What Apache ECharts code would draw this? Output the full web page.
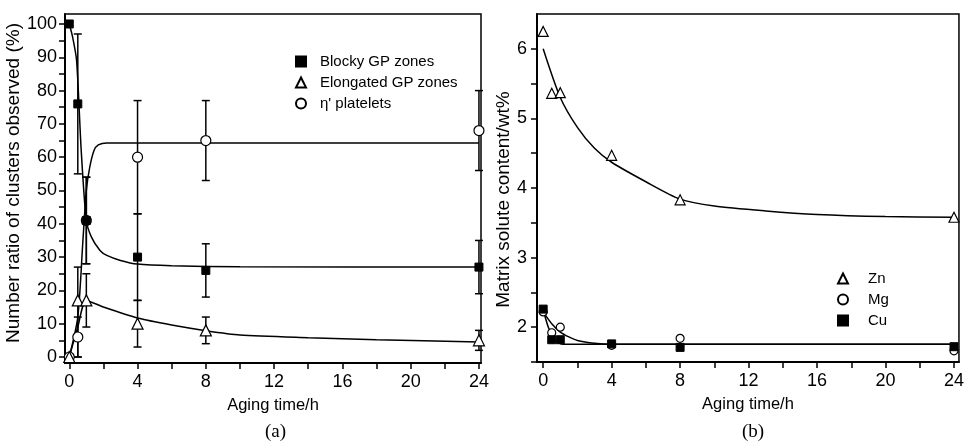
<!DOCTYPE html>
<html>
<head>
<meta charset="utf-8">
<script src="https://cdn.jsdelivr.net/npm/echarts@6/dist/echarts.min.js"></script>
<style>
  html, body { margin: 0; padding: 0; background: #fff; }
  #chart { width: 967px; height: 443px; }
</style>
</head>
<body>
<div id="chart"></div>
<script>
// (a) cluster ratios
const tA = [0, 0.5, 1, 4, 8, 24];
const blocky = [100, 76, 41, 30, 26, 27];
const blockyLow = [null, 55, 28, 17, 18, 19];
const blockyHigh = [null, 97, 54, 43, 34, 35];
const elong = [0, 17, 17, 10, 8, 5];
const elongLow = [null, 0, 9, 3, 4, 2];
const elongHigh = [null, 27, 25, 17, 12, 8];
const eta = [0, 6, 41, 60, 65, 68];
const etaLow = [null, 0, 28, 43, 53, 56];
const etaHigh = [null, 12, 54, 77, 77, 80];

// fitted curves
const blockyFitT = [0, 0.2, 0.43, 0.7, 1, 1.3, 1.8, 2.2, 3, 4, 6, 10, 24];
const blockyFitY = [100, 96, 89, 62, 41, 36, 32, 30.5, 29, 27.9, 27.4, 27.1, 27];
const etaFitT = [0, 0.5, 0.8, 1, 1.2, 1.45, 1.7, 2.2, 24];
const etaFitY = [0, 12, 35, 50, 57, 62, 63.7, 64.3, 64.3];
const elongFitT = [0, 0.5, 1, 2, 4, 6, 8, 10, 14, 18, 24];
const elongFitY = [0, 9, 17, 15, 11.7, 9.6, 7.9, 6.6, 5.8, 5.2, 4.5];

// (b) matrix solute content
const tB = [0, 0.5, 1, 4, 8, 24];
const zn = [6.25, 5.36, 5.37, 4.47, 3.83, 3.58];
const mg = [2.22, 1.92, 2.0, 1.74, 1.84, 1.66];
const cu = [2.26, 1.82, 1.82, 1.76, 1.71, 1.72];
const znFitT = [0, 1, 2, 3, 4, 6, 8, 10, 13, 16, 20, 24];
const znFitY = [6.0, 5.3, 4.87, 4.57, 4.37, 4.09, 3.84, 3.74, 3.67, 3.62, 3.59, 3.58];
const cuFitT = [0, 0.3, 0.6, 0.9, 1.2, 24];
const cuFitY = [2.25, 2.0, 1.85, 1.78, 1.755, 1.755];
const mgFitT = [0, 0.5, 1, 1.5, 2, 3, 4, 24];
const mgFitY = [2.22, 2.05, 1.93, 1.86, 1.81, 1.77, 1.755, 1.755];

const xTicks = [0, 2, 4, 6, 8, 10, 12, 14, 16, 18, 20, 22, 24];
const xLabels = [0, 4, 8, 12, 16, 20, 24];
const yTicksA = [0, 5, 10, 15, 20, 25, 30, 35, 40, 45, 50, 55, 60, 65, 70, 75, 80, 85, 90, 95, 100];
const yLabelsA = [0, 10, 20, 30, 40, 50, 60, 70, 80, 90, 100];
const yTicksB = [1.5, 2, 2.5, 3, 3.5, 4, 4.5, 5, 5.5, 6];
const yLabelsB = [2, 3, 4, 5, 6];

const FONT = 'Liberation Sans';
const zip = (xs, ys) => xs.map((x, i) => [x, ys[i]]);
const bars = (xs, lo, hi) => xs.map((x, i) => [x, lo[i], hi[i]]).filter(d => d[1] !== null);

const errorBar = (idx, data) => ({
    type: 'custom',
    xAxisIndex: idx,
    yAxisIndex: idx,
    z: 3,
    silent: true,
    data: data,
    renderItem: function (params, api) {
        const lo = api.coord([api.value(0), api.value(1)]);
        const hi = api.coord([api.value(0), api.value(2)]);
        const w = 4;
        const st = { stroke: '#000', lineWidth: 1.5 };
        return {
            type: 'group',
            children: [
                { type: 'line', shape: { x1: lo[0], y1: lo[1], x2: hi[0], y2: hi[1] }, style: st },
                { type: 'line', shape: { x1: lo[0] - w, y1: lo[1], x2: lo[0] + w, y2: lo[1] }, style: st },
                { type: 'line', shape: { x1: hi[0] - w, y1: hi[1], x2: hi[0] + w, y2: hi[1] }, style: st }
            ]
        };
    }
});

const fitLine = (idx, xs, ys) => ({
    type: 'line',
    xAxisIndex: idx,
    yAxisIndex: idx,
    data: zip(xs, ys),
    showSymbol: false,
    smooth: 0.25,
    silent: true,
    z: 2,
    lineStyle: { color: '#000', width: 1.5 }
});

const points = (idx, name, xs, ys, symbol, size, filled) => ({
    type: 'scatter',
    name: name,
    xAxisIndex: idx,
    yAxisIndex: idx,
    data: zip(xs, ys),
    symbol: symbol,
    symbolSize: size,
    z: 5,
    itemStyle: filled
        ? { color: '#000', borderColor: '#000', borderWidth: 1, opacity: 1 }
        : { color: '#fff', borderColor: '#000', borderWidth: 1.2, opacity: 1 }
});

const xAxis = (idx, min, max) => ({
    type: 'value',
    gridIndex: idx,
    min: min,
    max: max,
    name: 'Aging time/h',
    nameLocation: 'middle',
    nameGap: 34,
    nameTextStyle: { fontFamily: FONT, fontSize: 16.5, color: '#000' },
    axisLine: { onZero: false, lineStyle: { color: '#000', width: 2 } },
    axisTick: { customValues: xTicks, length: 6, lineStyle: { color: '#000', width: 1.5 } },
    axisLabel: { customValues: xLabels, margin: 10, fontFamily: FONT, fontSize: 18, color: '#000' },
    splitLine: { show: false }
});

const chart = echarts.init(document.getElementById('chart'));

const option = {
    backgroundColor: '#fff',
    animation: false,
    grid: [
        { left: 65, top: 14, width: 416, height: 349, show: true, borderColor: '#000', borderWidth: 1.5 },
        { left: 537, top: 14, width: 428, height: 348, show: true, borderColor: '#000', borderWidth: 1.5 }
    ],
    xAxis: [xAxis(0, -0.25, 24.12), xAxis(1, -0.36, 24.29)],
    yAxis: [
        {
            type: 'value', gridIndex: 0, min: -1.8, max: 103,
            name: 'Number ratio of clusters observed (%)',
            nameLocation: 'middle', nameGap: 36,
            nameTextStyle: { fontFamily: FONT, fontSize: 19, color: '#000', padding: [0, 0, 0, 11] },
            axisLine: { onZero: false, lineStyle: { color: '#000', width: 2 } },
            axisTick: { customValues: yTicksA, length: 6, lineStyle: { color: '#000', width: 1.5 } },
            axisLabel: { customValues: yLabelsA, margin: 8, fontFamily: FONT, fontSize: 18, color: '#000' },
            splitLine: { show: false }
        },
        {
            type: 'value', gridIndex: 1, min: 1.5, max: 6.5,
            name: 'Matrix solute content/wt%',
            nameLocation: 'middle', nameGap: 23,
            nameTextStyle: { fontFamily: FONT, fontSize: 19, color: '#000', padding: [0, 23, 0, 0] },
            axisLine: { onZero: false, lineStyle: { color: '#000', width: 2 } },
            axisTick: { customValues: yTicksB, length: 6, lineStyle: { color: '#000', width: 1.5 } },
            axisLabel: { customValues: yLabelsB, margin: 10, fontFamily: FONT, fontSize: 18, color: '#000' },
            splitLine: { show: false }
        }
    ],
    legend: [
        {
            left: 290, top: 49, orient: 'vertical', itemGap: 6,
            itemWidth: 10, itemHeight: 10, selectedMode: false,
            textStyle: { fontFamily: FONT, fontSize: 15, color: '#000', lineHeight: 15, padding: [0, 0, 0, 9] },
            data: [
                { name: 'Blocky GP zones', icon: 'rect' },
                { name: 'Elongated GP zones', icon: 'triangle' },
                { name: "η' platelets", icon: 'circle' }
            ]
        },
        {
            left: 832, top: 266, orient: 'vertical', itemGap: 6,
            itemWidth: 10, itemHeight: 10, selectedMode: false,
            textStyle: { fontFamily: FONT, fontSize: 15, color: '#000', lineHeight: 15, padding: [0, 0, 0, 15] },
            data: [
                { name: 'Zn', icon: 'triangle' },
                { name: 'Mg', icon: 'circle' },
                { name: 'Cu', icon: 'rect' }
            ]
        }
    ],
    graphic: [
        { type: 'text', left: 265, top: 423, style: { text: '(a)', font: '19px "Liberation Serif"', fill: '#000' } },
        { type: 'text', left: 742, top: 423, style: { text: '(b)', font: '19px "Liberation Serif"', fill: '#000' } }
    ],
    series: [
        fitLine(0, blockyFitT, blockyFitY),
        fitLine(0, etaFitT, etaFitY),
        fitLine(0, elongFitT, elongFitY),
        errorBar(0, bars(tA, blockyLow, blockyHigh)),
        errorBar(0, bars(tA, elongLow, elongHigh)),
        errorBar(0, bars(tA, etaLow, etaHigh)),
        points(0, "η' platelets", tA, eta, 'circle', 10, false),
        points(0, 'Elongated GP zones', tA, elong, 'triangle', 11, false),
        points(0, 'Blocky GP zones', tA, blocky, 'rect', 8, true),

        fitLine(1, znFitT, znFitY),
        fitLine(1, cuFitT, cuFitY),
        fitLine(1, mgFitT, mgFitY),
        points(1, 'Zn', tB, zn, 'triangle', 10, false),
        points(1, 'Mg', tB, mg, 'circle', 8, false),
        points(1, 'Cu', tB, cu, 'rect', 8, true)
    ]
};

chart.setOption(option);
</script>
</body>
</html>
